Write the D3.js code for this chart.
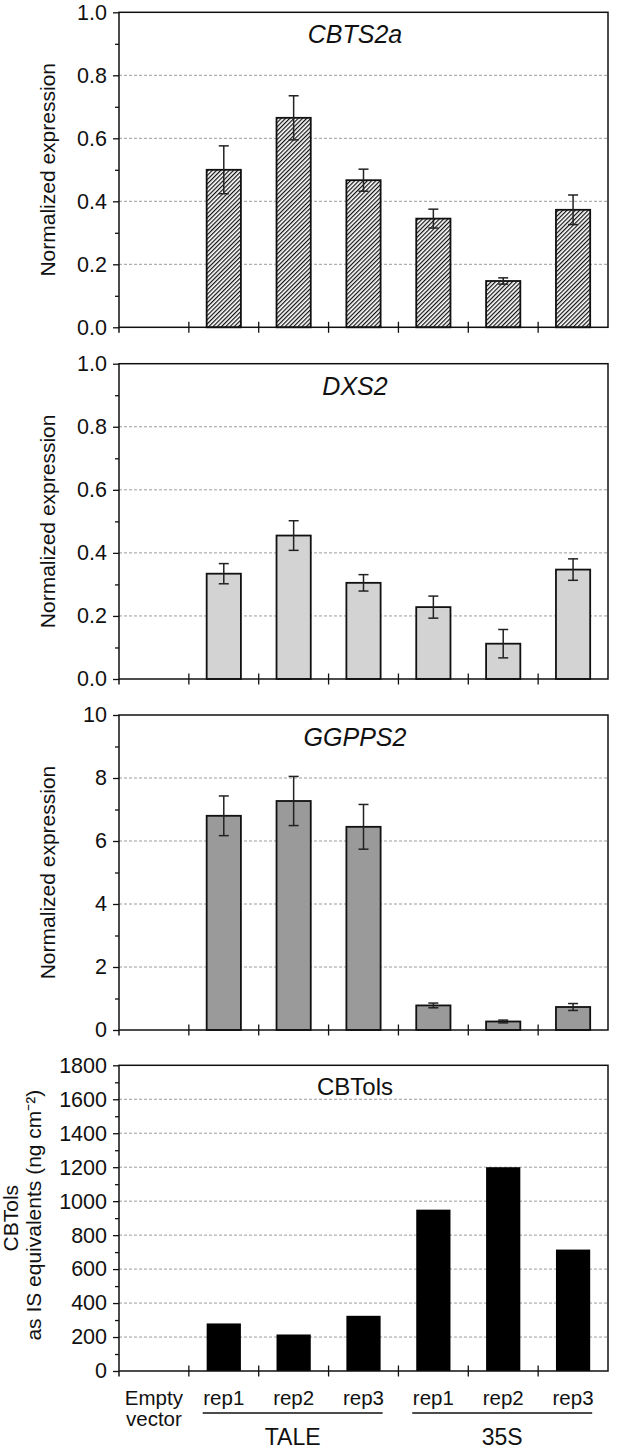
<!DOCTYPE html>
<html>
<head>
<meta charset="utf-8">
<script src="https://cdn.jsdelivr.net/npm/d3@7"></script>
<style>
  html, body { margin: 0; padding: 0; background: #fff; }
  svg { display: block; font-family: "Liberation Sans", Arial, sans-serif; }
</style>
</head>
<body>
<svg id="chart" width="617" height="1455"></svg>
<script>
// ---------- data ----------
const categories = ["EV", "TALE-rep1", "TALE-rep2", "TALE-rep3", "35S-rep1", "35S-rep2", "35S-rep3"];
const categoryLabels = [["Empty", "vector"], ["rep1"], ["rep2"], ["rep3"], ["rep1"], ["rep2"], ["rep3"]];
const groupNames = ["TALE", "35S"];
const groupStart = ["TALE-rep1", "35S-rep1"];
const groupEnd = ["TALE-rep3", "35S-rep3"];

const cbts2aValues = [0, 0.500, 0.665, 0.467, 0.345, 0.147, 0.373];
const cbts2aErrors = [0, 0.076, 0.070, 0.035, 0.030, 0.010, 0.047];

const dxs2Values = [0, 0.334, 0.455, 0.305, 0.228, 0.112, 0.347];
const dxs2Errors = [0, 0.032, 0.047, 0.026, 0.035, 0.045, 0.034];

const ggpps2Values = [0, 6.80, 7.27, 6.45, 0.78, 0.27, 0.73];
const ggpps2Errors = [0, 0.63, 0.78, 0.71, 0.075, 0.045, 0.11];

const cbtolsValues = [0, 280, 215, 325, 950, 1200, 715];

const exprTicks = [0, 0.2, 0.4, 0.6, 0.8, 1.0];
const ggppsTicks = [0, 2, 4, 6, 8, 10];
const cbtolsTicks = [0, 200, 400, 600, 800, 1000, 1200, 1400, 1600, 1800];

// ---------- layout ----------
const svg = d3.select("#chart");
const left = 119, right = 608;
const x = d3.scaleBand().domain(categories).range([left, right]).paddingInner(0).paddingOuter(0);
const barW = x.bandwidth() * 0.49;

const defs = svg.append("defs");
const pat = defs.append("pattern")
  .attr("id", "hatch").attr("patternUnits", "userSpaceOnUse")
  .attr("width", 3).attr("height", 3)
  .attr("patternTransform", "rotate(45)");
pat.append("rect").attr("width", 3).attr("height", 3).attr("fill", "#fff");
pat.append("line").attr("x1", 0.6).attr("y1", -1).attr("x2", 0.6).attr("y2", 4)
  .attr("stroke", "#111").attr("stroke-width", 1.25);

const panels = [
  { title: "CBTS2a", italic: true, top: 12.3, bottom: 327.3, domain: [0, 1], ticks: exprTicks, fmt: d3.format(".1f"),
    values: cbts2aValues, errors: cbts2aErrors, fill: "url(#hatch)", ylabel: ["Normalized expression"] },
  { title: "DXS2", italic: true, top: 363.7, bottom: 679, domain: [0, 1], ticks: exprTicks, fmt: d3.format(".1f"),
    values: dxs2Values, errors: dxs2Errors, fill: "#d3d3d3", ylabel: ["Normalized expression"] },
  { title: "GGPPS2", italic: true, top: 715, bottom: 1030, domain: [0, 10], ticks: ggppsTicks, fmt: d3.format("d"),
    values: ggpps2Values, errors: ggpps2Errors, fill: "#9a9a9a", ylabel: ["Normalized expression"] },
  { title: "CBTols", italic: false, top: 1065.3, bottom: 1371, domain: [0, 1800], ticks: cbtolsTicks, fmt: d3.format("d"),
    values: cbtolsValues, errors: null, fill: "#000", ylabel: ["CBTols", "as IS equivalents (ng cm\u207B\u00B2)"] }
];

panels.forEach((p, pi) => {
  const y = d3.scaleLinear().domain(p.domain).range([p.bottom, p.top]);
  const g = svg.append("g");
  const step = p.ticks[1] - p.ticks[0];
  const minor = p.ticks.slice(0, -1).map(t => t + step / 2);

  // grid
  g.append("g").selectAll("line").data(p.ticks.filter(t => t > p.domain[0] && t < p.domain[1]))
    .join("line")
    .attr("x1", left).attr("x2", right)
    .attr("y1", d => y(d)).attr("y2", d => y(d))
    .attr("stroke", "#9c9c9c").attr("stroke-width", 1).attr("stroke-dasharray", "3,2");

  // bars
  g.append("g").selectAll("rect").data(categories)
    .join("rect")
    .attr("x", d => x(d) + (x.bandwidth() - barW) / 2)
    .attr("width", barW)
    .attr("y", (d, i) => y(p.values[i]))
    .attr("height", (d, i) => y(0) - y(p.values[i]))
    .attr("fill", p.fill)
    .attr("stroke", "#111").attr("stroke-width", pi === 3 ? 0 : 1.8);

  // error bars
  if (p.errors) {
    const eg = g.append("g").attr("stroke", "#222").attr("stroke-width", 1.5);
    categories.forEach((c, i) => {
      if (p.values[i] <= 0) return;
      const cx = x(c) + x.bandwidth() / 2;
      const y1 = y(p.values[i] - p.errors[i]), y2 = y(p.values[i] + p.errors[i]);
      eg.append("line").attr("x1", cx).attr("x2", cx).attr("y1", y1).attr("y2", y2);
      eg.append("line").attr("x1", cx - 5).attr("x2", cx + 5).attr("y1", y1).attr("y2", y1);
      eg.append("line").attr("x1", cx - 5).attr("x2", cx + 5).attr("y1", y2).attr("y2", y2);
    });
  }

  // y axis (major)
  const yAxis = d3.axisLeft(y).tickValues(p.ticks).tickFormat(p.fmt).tickSize(6).tickPadding(6);
  const ya = g.append("g").attr("transform", `translate(${left},0)`).call(yAxis);
  ya.select(".domain").remove();
  ya.selectAll(".tick line").attr("stroke", "#111").attr("stroke-width", 1.3);
  ya.selectAll(".tick text").attr("font-size", 21.5).attr("fill", "#111")
    .attr("font-family", "Liberation Sans, Arial, sans-serif");
  // minor ticks
  const yMinor = d3.axisLeft(y).tickValues(minor).tickFormat("").tickSize(4);
  const ym = g.append("g").attr("transform", `translate(${left},0)`).call(yMinor);
  ym.select(".domain").remove();
  ym.selectAll(".tick line").attr("stroke", "#111").attr("stroke-width", 1.3);

  // x-axis ticks at band boundaries
  const bounds = categories.map(c => x(c)).concat([right]);
  g.append("g").selectAll("line").data(bounds.slice(1, -1))
    .join("line")
    .attr("x1", d => d).attr("x2", d => d)
    .attr("y1", p.bottom - 5.5).attr("y2", p.bottom + 5.5)
    .attr("stroke", "#111").attr("stroke-width", 1.3);

  // frame
  g.append("rect").attr("x", left).attr("y", p.top)
    .attr("width", right - left).attr("height", p.bottom - p.top)
    .attr("fill", "none").attr("stroke", "#111").attr("stroke-width", 1.5);
  g.append("line").attr("x1", left).attr("x2", left).attr("y1", p.bottom).attr("y2", p.bottom + 5.5)
    .attr("stroke", "#111").attr("stroke-width", 1.5);

  // title
  g.append("text").attr("x", 355).attr("y", p.top + (p.italic ? 31 : 30))
    .attr("text-anchor", "middle")
    .attr("font-size", p.italic ? 25 : 24)
    .attr("font-style", p.italic ? "italic" : "normal")
    .attr("fill", "#111")
    .text(p.title);

  // y label
  const cy = (p.top + p.bottom) / 2;
  if (p.ylabel.length === 1) {
    g.append("text").attr("transform", `translate(55,${cy}) rotate(-90)`)
      .attr("text-anchor", "middle").attr("font-size", 21).attr("fill", "#111")
      .text(p.ylabel[0]);
  } else {
    g.append("text").attr("transform", `translate(18,${cy}) rotate(-90)`)
      .attr("text-anchor", "middle").attr("font-size", 21).attr("fill", "#111")
      .text(p.ylabel[0]);
    g.append("text").attr("transform", `translate(41,${cy - 3}) rotate(-90)`)
      .attr("text-anchor", "middle").attr("font-size", 21).attr("fill", "#111")
      .text(p.ylabel[1]);
  }

  // category labels on bottom panel
  if (pi === panels.length - 1) {
    const lg = g.append("g").attr("font-size", 20.5).attr("fill", "#111").attr("text-anchor", "middle");
    categories.forEach((c, i) => {
      const cx = x(c) + x.bandwidth() / 2;
      categoryLabels[i].forEach((t, li) => {
        lg.append("text").attr("x", cx).attr("y", p.bottom + 34 + li * 21).text(t);
      });
    });
    groupNames.forEach((gn, gi) => {
      const x0 = x(groupStart[gi]) + (x.bandwidth() - barW) / 2 - 4;
      const x1 = x(groupEnd[gi]) + (x.bandwidth() + barW) / 2 + 2;
      g.append("line").attr("x1", x0).attr("x2", x1)
        .attr("y1", p.bottom + 42).attr("y2", p.bottom + 42)
        .attr("stroke", "#111").attr("stroke-width", 1.5);
      g.append("text").attr("x", (x0 + x1) / 2).attr("y", p.bottom + 74)
        .attr("text-anchor", "middle").attr("font-size", 23).attr("fill", "#111")
        .text(gn);
    });
  }
});
</script>
</body>
</html>
